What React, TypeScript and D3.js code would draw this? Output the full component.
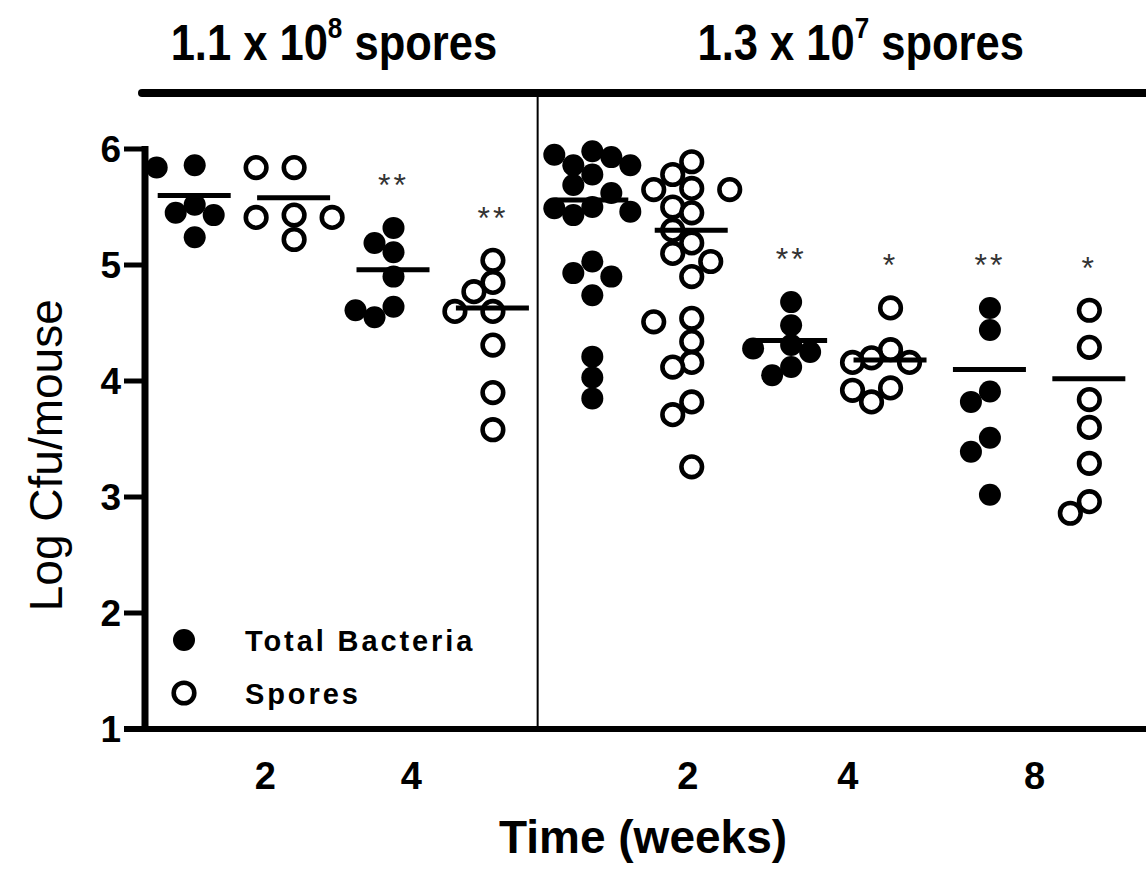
import React from "react";
import * as d3 from "d3";

// ---- data ----
const columns = [
  "L Total 2wk", "L Spores 2wk", "L Total 4wk", "L Spores 4wk",
  "R Total 2wk", "R Spores 2wk", "R Total 4wk", "R Spores 4wk", "R Total 8wk", "R Spores 8wk",
];
const columnType = ["total", "spores", "total", "spores", "total", "spores", "total", "spores", "total", "spores"];

const L_T2 = [5.86, 5.84, 5.52, 5.45, 5.43, 5.24];
const L_S2 = [5.84, 5.84, 5.43, 5.41, 5.41, 5.22];
const L_T4 = [5.32, 5.19, 5.11, 4.9, 4.64, 4.61, 4.55];
const L_S4 = [5.04, 4.85, 4.77, 4.6, 4.6, 4.31, 3.9, 3.58];
const R_T2 = [5.98, 5.95, 5.93, 5.86, 5.86, 5.78, 5.69, 5.62, 5.5, 5.49, 5.46, 5.43, 5.03, 4.93, 4.9, 4.74, 4.21, 4.03, 3.85];
const R_S2 = [5.89, 5.78, 5.66, 5.65, 5.65, 5.5, 5.45, 5.3, 5.19, 5.1, 5.03, 4.9, 4.54, 4.51, 4.34, 4.16, 4.12, 3.82, 3.71, 3.26];
const R_T4 = [4.68, 4.48, 4.31, 4.28, 4.25, 4.12, 4.05];
const R_S4 = [4.63, 4.27, 4.2, 4.16, 4.16, 3.94, 3.92, 3.82];
const R_T8 = [4.63, 4.44, 3.91, 3.82, 3.51, 3.39, 3.02];
const R_S8 = [4.61, 4.29, 3.84, 3.6, 3.29, 2.96, 2.86];
const columnValues = [L_T2, L_S2, L_T4, L_S4, R_T2, R_S2, R_T4, R_S4, R_T8, R_S8];

const columnMeans = [5.6, 5.58, 4.96, 4.63, 5.56, 5.3, 4.35, 4.18, 4.1, 4.02];
const significance = ["", "", "**", "**", "", "", "**", "*", "**", "*"];

const yTicks = [1, 2, 3, 4, 5, 6];
const xTickLabels = ["2", "4", "2", "4", "8"];
const xTickAt = [0.71, 2.18, 4.96, 6.57, 8.45];
const panelDivider = 3.45;
const panelTitles = [
  { base: "1.1 x 10", sup: "8", rest: " spores", at: 1.4 },
  { base: "1.3 x 10", sup: "7", rest: " spores", at: 6.7 },
];
const legendItems = [
  { type: "total", label: "Total Bacteria" },
  { type: "spores", label: "Spores" },
];

const W = 1146;
const H = 882;
const FONT = "'Liberation Sans', Arial, Helvetica, sans-serif";

const x = d3.scaleLinear().domain([-0.5, 9.57]).range([145, 1146]);
const y = d3.scaleLinear().domain([1, 6]).range([729, 149]);

const R = 11;

function swarm(values: number[], cx: number) {
  const step = 19;
  const cands = [0, -step, step, -2 * step, 2 * step];
  const minD = 19.5;
  const placed: { x: number; y: number; v: number }[] = [];
  const sorted = [...values].sort((a, b) => b - a);
  for (const v of sorted) {
    const py = y(v);
    let best = cands[0];
    let bestD = -1;
    for (const c of cands) {
      const px = cx + c;
      let md = Infinity;
      for (const p of placed) md = Math.min(md, Math.hypot(p.x - px, p.y - py));
      if (md >= minD) {
        best = c;
        break;
      }
      if (md > bestD) {
        bestD = md;
        best = c;
      }
    }
    placed.push({ x: cx + best, y: py, v });
  }
  return placed;
}

function Marker({ type, cx, cy }: { type: string; cx: number; cy: number }) {
  return type === "total" ? (
    <circle cx={cx} cy={cy} r={R} fill="#000" />
  ) : (
    <circle cx={cx} cy={cy} r={10.3} fill="#fff" stroke="#000" strokeWidth={4.6} />
  );
}

export default function App() {
  return (
    <div style={{ position: "absolute", left: 0, top: 0 }}>
      <svg width={W} height={H} viewBox={`0 0 ${W} ${H}`} style={{ display: "block", background: "#fff" }}>
        {/* panel titles */}
        {panelTitles.map((t, i) => (
          <g key={i} transform={`translate(${x(t.at)},60) scale(0.87,1)`}>
            <text x={0} y={0} textAnchor="middle" fontFamily={FONT} fontWeight="bold" fontSize={50} fill="#000">
              {t.base}
              <tspan dy={-22} fontSize={30}>{t.sup}</tspan>
              <tspan dy={22}>{t.rest}</tspan>
            </text>
          </g>
        ))}
        {/* top bar */}
        <line x1={142} x2={W} y1={93} y2={93} stroke="#000" strokeWidth={8} strokeLinecap="round" />
        {/* divider */}
        <line x1={x(panelDivider)} x2={x(panelDivider)} y1={93} y2={729} stroke="#000" strokeWidth={2} />

        {/* points */}
        {columnValues.map((vals, ci) => {
          const pts = swarm(vals, x(ci));
          return (
            <g key={columns[ci]}>
              {pts.map((p, pi) => (
                <Marker key={pi} type={columnType[ci]} cx={p.x} cy={p.y} />
              ))}
            </g>
          );
        })}
        {/* mean lines */}
        {columnMeans.map((m, ci) => (
          <line key={ci} x1={x(ci) - 37} x2={x(ci) + 36} y1={y(m)} y2={y(m)} stroke="#000" strokeWidth={5} />
        ))}
        {/* significance */}
        {significance.map((s, ci) =>
          s ? (
            <text key={ci} x={x(ci)} y={y(d3.max(columnValues[ci])! + 0.42) + 17} textAnchor="middle"
              fontFamily={FONT} fontSize={32} fill="#333" letterSpacing={3}>
              {s}
            </text>
          ) : null
        )}

        {/* y axis */}
        <line x1={145} x2={145} y1={y(6) - 3} y2={y(1)} stroke="#000" strokeWidth={7} />
        {yTicks.map((t) => (
          <g key={t}>
            <line x1={124} x2={145} y1={y(t)} y2={y(t)} stroke="#000" strokeWidth={5} />
            <text x={121} y={y(t) + 13} textAnchor="end" fontFamily={FONT} fontWeight="bold" fontSize={37} fill="#000">
              {t}
            </text>
          </g>
        ))}
        {/* x axis */}
        <line x1={124} x2={W} y1={y(1)} y2={y(1)} stroke="#000" strokeWidth={6} />
        {xTickLabels.map((l, i) => (
          <text key={i} x={x(xTickAt[i])} y={789} textAnchor="middle" fontFamily={FONT} fontWeight="bold" fontSize={38} fill="#000">
            {l}
          </text>
        ))}
        <text x={643} y={853} textAnchor="middle" fontFamily={FONT} fontWeight="bold" fontSize={46} fill="#000">
          Time (weeks)
        </text>
        <text transform={`translate(62,${y(3.36)}) rotate(-90)`} textAnchor="middle" fontFamily={FONT}
          fontSize={46} fill="#000">
          Log Cfu/mouse
        </text>

        {/* legend */}
        {legendItems.map((it, i) => (
          <g key={it.label} transform={`translate(0,${640 + i * 53})`}>
            <Marker type={it.type} cx={184} cy={0} />
            <text x={245} y={11} fontFamily={FONT} fontWeight="bold" fontSize={29} letterSpacing={2.9} fill="#000">
              {it.label}
            </text>
          </g>
        ))}
      </svg>
    </div>
  );
}
